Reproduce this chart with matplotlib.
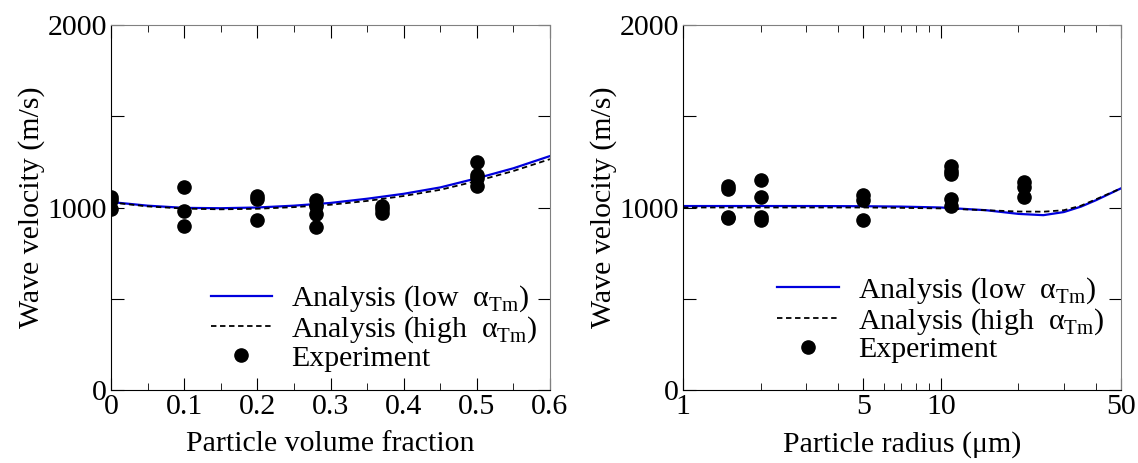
import matplotlib

matplotlib.use("Agg")
import matplotlib.pyplot as plt
from matplotlib.ticker import FixedLocator, NullFormatter

plt.rcParams["font.family"] = ["Liberation Serif", "DejaVu Serif"]
plt.rcParams["mathtext.fontset"] = "custom"
plt.rcParams["mathtext.rm"] = "Liberation Serif"

# left panel: volume fraction
frac_exp = [0, 0, 0, 0.1, 0.1, 0.1, 0.2, 0.2, 0.2, 0.28, 0.28, 0.28, 0.28,
            0.37, 0.37, 0.37, 0.5, 0.5, 0.5, 0.5]
frac_vel = [1060, 1040, 990, 1114, 982, 899, 1065, 1045, 930, 1040, 1010, 965, 895,
            1010, 990, 970, 1250, 1180, 1160, 1120]
frac_x = [0, 0.05, 0.1, 0.15, 0.2, 0.25, 0.3, 0.35, 0.4, 0.45, 0.5, 0.55, 0.6]
frac_low = [1030, 1010, 998, 996, 1000, 1010, 1025, 1048, 1075, 1110, 1160, 1215, 1282]
frac_high = [1028, 1006, 994, 990, 993, 1002, 1015, 1036, 1063, 1097, 1145, 1200, 1265]

# right panel: particle radius
rad_exp = [1.5, 1.5, 1.5, 1.5, 2, 2, 2, 2, 5, 5, 5, 11, 11, 11, 11, 11, 21, 21, 21]
rad_vel = [1120, 1100, 950, 945, 1151, 1059, 950, 932, 1068, 1041, 932,
           1225, 1200, 1185, 1045, 1010, 1140, 1115, 1060]
rad_x = [1, 2, 3, 5, 7, 10, 15, 20, 25, 30, 35, 40, 50]
rad_low = [1008, 1008, 1008, 1007, 1005, 1000, 985, 965, 958, 975, 1005, 1040, 1105]
rad_high = [1000, 1000, 1000, 1000, 998, 995, 985, 978, 977, 985, 1010, 1045, 1105]

lbl_low = "Analysis (low  α$_{\\mathrm{Tm}}$)"
lbl_high = "Analysis (high  α$_{\\mathrm{Tm}}$)"
FS = 21.5

fig = plt.figure(figsize=(11.38, 4.63), dpi=100)
ax1 = fig.add_axes([111 / 1138, 1 - 390 / 463, 439 / 1138, 365 / 463])
ax2 = fig.add_axes([683 / 1138, 1 - 390 / 463, 438 / 1138, 365 / 463])


def style(ax):
    for side in ("top", "right"):
        ax.spines[side].set_color("#808080")
    ax.tick_params(which="both", direction="in", top=True, right=True, labelsize=FS, pad=3)
    ax.tick_params(which="major", length=9)
    ax.tick_params(which="minor", length=5)
    ax.set_ylim(0, 2000)
    ax.yaxis.set_major_locator(FixedLocator([0, 500, 1000, 1500, 2000]))
    ax.set_yticklabels(["0", "", "1000", "", "2000"])
    ax.set_ylabel("Wave velocity (m/s)", fontsize=FS, labelpad=2)


def draw(ax, x, low, high, xe, ve, anchor):
    ax.plot(x, low, color="#0000dd", lw=1.6, label=lbl_low)
    ax.plot(x, high, color="black", lw=1.3, ls=(0, (3, 2)), label=lbl_high)
    ax.plot(xe, ve, "o", color="black", ms=9.5, ls="none", label="Experiment")
    ax.legend(loc="lower right", bbox_to_anchor=anchor, frameon=False, fontsize=FS,
              handlelength=2.05, handletextpad=0.65, labelspacing=0.0, borderaxespad=0)


draw(ax1, frac_x, frac_low, frac_high, frac_exp, frac_vel, (1.0, 0.017))
style(ax1)
ax1.set_xlim(0, 0.6)
ax1.set_xticks([0, 0.1, 0.2, 0.3, 0.4, 0.5, 0.6])
ax1.set_xticklabels(["0", "0.1", "0.2", "0.3", "0.4", "0.5", "0.6"])
ax1.xaxis.set_minor_locator(FixedLocator([0.05, 0.15, 0.25, 0.35, 0.45, 0.55]))
ax1.set_xlabel("Particle volume fraction", fontsize=FS, labelpad=8)

draw(ax2, rad_x, rad_low, rad_high, rad_exp, rad_vel, (0.99, 0.04))
style(ax2)
ax2.set_xscale("log")
ax2.set_xlim(1, 50)
ax2.xaxis.set_major_locator(FixedLocator([1, 5, 10, 50]))
ax2.set_xticklabels(["1", "5", "10", "50"])
ax2.xaxis.set_minor_locator(FixedLocator([2, 3, 4, 6, 7, 8, 9, 20, 30, 40]))
ax2.xaxis.set_minor_formatter(NullFormatter())
ax2.set_xlabel("Particle radius (μm)", fontsize=FS, labelpad=8)

fig.savefig("out.png", dpi=100)
